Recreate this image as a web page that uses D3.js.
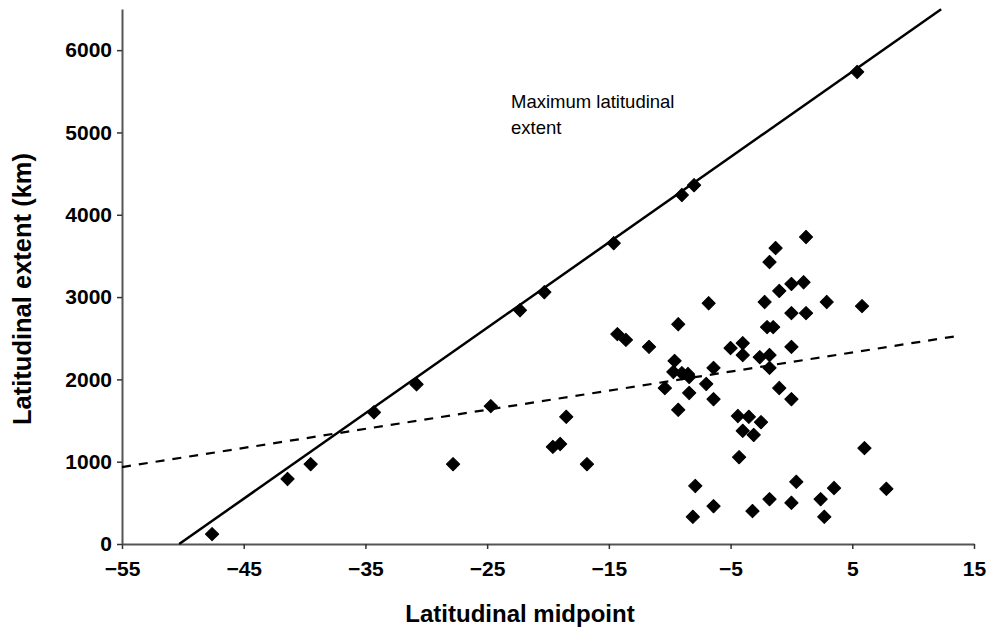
<!DOCTYPE html>
<html>
<head>
<meta charset="utf-8">
<script src="https://cdn.jsdelivr.net/npm/d3@7"></script>
<style>
  body { margin: 0; background: #fff; }
  text { font-family: "Liberation Sans", Arial, sans-serif; }
</style>
</head>
<body>
<script>
// latitudinal midpoint (deg) of each range
var midpoint = [
  -47.6, -41.4, -39.5, -34.3, -30.8, -22.3, -20.3, -14.6, -9.0, -8.0, 5.4,
  -27.8, -24.7, -18.5, -19.6, -19.0, -16.8, -14.3, -13.6, -11.7,
  1.2, -1.3, -1.8, -1.0, 0.0, 1.0, -2.2, 2.9, 5.8, -6.8, 0.0, 1.2,
  -9.3, -2.0, -1.5, -5.0, -4.0, -4.0, 0.0, -2.6, -1.8, -1.8,
  -9.6, -9.7, -9.0, -8.5, -8.4, -6.4, -10.4, -8.4, -7.0, -6.4, -9.3,
  -1.0, 0.0, -4.4, -3.5, -2.5, -4.0, -3.1, -4.3, 6.0,
  -7.9, -8.1, -6.4, -3.2, -1.8, 0.4, 0.0, 2.4, 3.5, 2.7, 7.8
];
// latitudinal extent (km) of each range
var extent = [
  120, 790, 970, 1600, 1940, 2840, 3060, 3655, 4240, 4360, 5735,
  970, 1675, 1545, 1180, 1215, 970, 2550, 2480, 2395,
  3730, 3595, 3425, 3075, 3160, 3180, 2940, 2940, 2890, 2925, 2805, 2805,
  2670, 2635, 2635, 2380, 2440, 2295, 2395, 2270, 2295, 2140,
  2225, 2090, 2075, 2065, 2030, 2140, 1895, 1835, 1945, 1760, 1630,
  1895, 1760, 1555, 1545, 1480, 1375, 1325, 1055, 1165,
  705, 330, 460, 400, 545, 755, 500, 545, 680, 330, 670
];

// fitted lines: [slope, intercept] and x extent
var maxFit = [103.8, 5221];
var maxFitRange = [-50.3, 12.3];
var meanFit = [23.2, 2211];
var meanFitRange = [-55, 13.7];

var xTicks = [-55, -45, -35, -25, -15, -5, 5, 15];
var yTicks = [0, 1000, 2000, 3000, 4000, 5000, 6000];

var width = 990,
  height = 630;

var svg = d3.select('body')
  .append('svg')
  .attr('width', width)
  .attr('height', height)
  .style('background', '#fff');

var xScale = d3.scaleLinear()
  .domain([-55, 15])
  .range([122, 974]);

var yScale = d3.scaleLinear()
  .domain([0, 6500])
  .range([544, 9]);

//Draw axes
var xAxis = svg.append('g')
  .attr('transform', 'translate(0,544)')
  .call(d3.axisBottom(xScale).tickValues(xTicks).tickSize(5).tickSizeOuter(0).tickFormat(d3.format('d')));

var yAxis = svg.append('g')
  .attr('transform', 'translate(122,0)')
  .call(d3.axisLeft(yScale).tickValues(yTicks).tickSize(5).tickSizeOuter(0).tickFormat(d3.format('d')));

[xAxis, yAxis].forEach(function(ax) {
  ax.select('.domain').attr('stroke', '#555').attr('stroke-width', 2);
  ax.selectAll('.tick line').attr('stroke', '#333').attr('stroke-width', 1.5);
  ax.selectAll('.tick text')
    .attr('fill', '#000')
    .style('font-size', '21px')
    .style('font-weight', 'bold')
    .style('font-family', '"Liberation Sans", Arial, sans-serif');
});
xAxis.selectAll('.tick text').attr('dy', '1.15em');
yAxis.selectAll('.tick text').attr('x', -10);

//Fitted lines
var line = d3.line()
  .x(function(d) { return xScale(d[0]); })
  .y(function(d) { return yScale(d[1]); });

function fitPoints(fit, range) {
  return range.map(function(x) { return [x, fit[0] * x + fit[1]]; });
}

svg.append('path')
  .datum(fitPoints(maxFit, maxFitRange))
  .attr('d', line)
  .attr('fill', 'none')
  .attr('stroke', '#000')
  .attr('stroke-width', 2.5);

svg.append('path')
  .datum(fitPoints(meanFit, meanFitRange))
  .attr('d', line)
  .attr('fill', 'none')
  .attr('stroke', '#000')
  .attr('stroke-width', 2.2)
  .attr('stroke-dasharray', '9,8');

//Points
var diamond = d3.symbol().type(d3.symbolSquare).size(88);

svg.selectAll('.pt')
  .data(midpoint)
  .enter()
  .append('path')
  .attr('class', 'pt')
  .attr('d', diamond)
  .attr('transform', function(d, i) {
    return 'translate(' + xScale(d) + ',' + yScale(extent[i]) + ') rotate(45)';
  })
  .attr('fill', '#000')
  .attr('stroke', '#000')
  .attr('stroke-width', 1)
  .attr('stroke-linejoin', 'round');

//Annotation
svg.append('text').attr('x', 511).attr('y', 108).text('Maximum latitudinal').style('font-size', '18.5px');
svg.append('text').attr('x', 511).attr('y', 134).text('extent').style('font-size', '18.5px');

//Axis titles
svg.append('text')
  .attr('x', 520)
  .attr('y', 622)
  .attr('text-anchor', 'middle')
  .style('font-size', '24px')
  .style('font-weight', 'bold')
  .text('Latitudinal midpoint');

svg.append('text')
  .attr('transform', 'translate(31,289) rotate(-90)')
  .attr('text-anchor', 'middle')
  .style('font-size', '25.5px')
  .style('font-weight', 'bold')
  .text('Latitudinal extent (km)');
</script>
</body>
</html>
